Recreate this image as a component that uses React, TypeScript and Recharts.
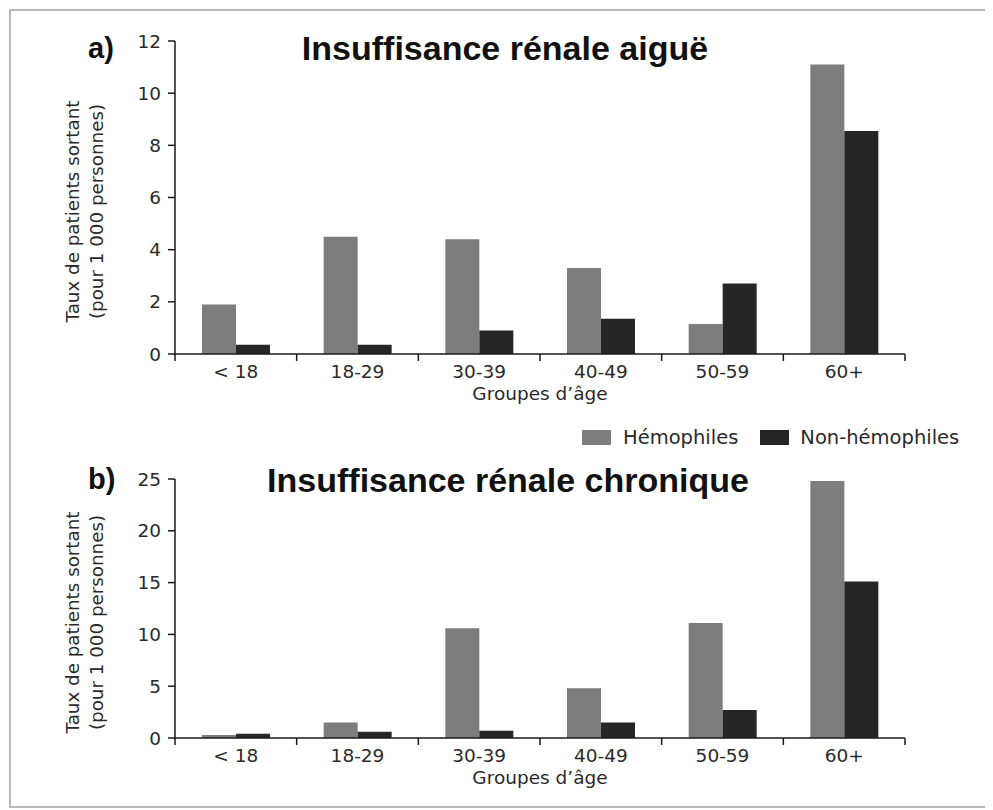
import React from 'react';
import { BarChart, Bar, XAxis, YAxis, Label } from 'recharts';

const categories = ['< 18', '18-29', '30-39', '40-49', '50-59', '60+'];

// a) Insuffisance rénale aiguë
const aiguHemo = [1.9, 4.5, 4.4, 3.3, 1.15, 11.1];
const aiguNon = [0.35, 0.35, 0.9, 1.35, 2.7, 8.55];
const aiguTicks = [0, 2, 4, 6, 8, 10, 12];

// b) Insuffisance rénale chronique
const chronHemo = [0.3, 1.5, 10.6, 4.8, 11.1, 24.8];
const chronNon = [0.4, 0.6, 0.7, 1.5, 2.7, 15.1];
const chronTicks = [0, 5, 10, 15, 20, 25];

const seriesNames = ['Hémophiles', 'Non-hémophiles'];

const GRAY = '#7d7d7d';
const DARK = '#262626';
const INK = '#1a1a1a';
const TEXT = '#2a2a2a';
// the scan's sans is wider than Arial, DejaVu Sans fits its widths better
const FONT = '"DejaVu Sans", "Liberation Sans", Arial, sans-serif';
const BOLD = '"Liberation Sans", Arial, Helvetica, sans-serif';

const dataAigu = categories.map((age, i) => ({ age, hemo: aiguHemo[i], non: aiguNon[i] }));
const dataChron = categories.map((age, i) => ({ age, hemo: chronHemo[i], non: chronNon[i] }));

const CHART_W = 985;
const Y_W = 60;
const PLOT_LEFT = 167; // container coords
const PLOT_RIGHT = 897;
const BAND = (PLOT_RIGHT - PLOT_LEFT) / categories.length;

const AgeTick = (props: any) => {
  const { x, y, payload, index } = props;
  const left = x - BAND / 2;
  const right = x + BAND / 2;
  return (
    <g>
      <line x1={left} x2={left} y1={y} y2={y + 7} stroke={INK} strokeWidth={1.5} />
      {index === categories.length - 1 && (
        <line x1={right} x2={right} y1={y} y2={y + 7} stroke={INK} strokeWidth={1.5} />
      )}
      <text x={x} y={y + 24} textAnchor="middle" fontSize={18.5} fill={TEXT} fontFamily={FONT}>
        {payload.value}
      </text>
    </g>
  );
};

const YTitle = (props: any) => {
  const vb = props.viewBox || {};
  const cy = vb.y + vb.height / 2 + 14;
  const x1 = vb.x - 43;
  const x2 = vb.x - 19;
  return (
    <g fontFamily={FONT} fontSize={18.3} fill={TEXT}>
      <text x={x1} y={cy} textAnchor="middle" dominantBaseline="central" transform={`rotate(-90, ${x1}, ${cy})`}>
        Taux de patients sortant
      </text>
      <text x={x2} y={cy} textAnchor="middle" dominantBaseline="central" transform={`rotate(-90, ${x2}, ${cy})`}>
        (pour 1 000 personnes)
      </text>
    </g>
  );
};

function Panel({ data, ticks, max, top, plotTop, plotBottom }: any) {
  const height = plotBottom - top + 54;
  return (
    <div style={{ position: 'absolute', left: 0, top }}>
      <BarChart
        width={CHART_W}
        height={height}
        data={data}
        margin={{ top: plotTop - top, right: CHART_W - PLOT_RIGHT, left: PLOT_LEFT - Y_W, bottom: 0 }}
        barGap={0}
        barSize={34}
      >
        <XAxis
          dataKey="age"
          height={54}
          tickSize={0}
          tickMargin={0}
          tickLine={false}
          axisLine={{ stroke: INK, strokeWidth: 1.5 }}
          tick={<AgeTick />}
          interval={0}
        >
          <Label
            value="Groupes d’âge"
            position="insideBottom"
            offset={8}
            style={{ fontSize: 18.5, fill: TEXT, fontFamily: FONT }}
          />
        </XAxis>
        <YAxis
          width={Y_W}
          domain={[0, max]}
          ticks={ticks}
          interval={0}
          tickSize={7}
          tickMargin={7}
          axisLine={{ stroke: INK, strokeWidth: 1.5 }}
          tickLine={{ stroke: INK, strokeWidth: 1.5 }}
          tick={{ fontSize: 18.5, fill: TEXT, fontFamily: FONT }}
        >
          <Label content={<YTitle />} />
        </YAxis>
        <Bar dataKey="hemo" name={seriesNames[0]} fill={GRAY} isAnimationActive={false} />
        <Bar dataKey="non" name={seriesNames[1]} fill={DARK} isAnimationActive={false} />
      </BarChart>
    </div>
  );
}

const titleStyle: React.CSSProperties = {
  position: 'absolute',
  fontFamily: BOLD,
  fontWeight: 700,
  fontSize: 34,
  lineHeight: '34px',
  color: '#111',
  whiteSpace: 'nowrap',
};

export default function App() {
  return (
    <div style={{ position: 'relative', width: 985, height: 802, background: '#fff', fontFamily: FONT }}>
      <div
        style={{
          position: 'absolute',
          left: 1,
          top: 1,
          width: 981,
          height: 799,
          border: '2px solid #b8b8b8',
          boxSizing: 'border-box',
        }}
      />
      <Panel data={dataAigu} ticks={aiguTicks} max={12} top={0} plotTop={33} plotBottom={346} />
      <Panel data={dataChron} ticks={chronTicks} max={25} top={420} plotTop={471} plotBottom={730} />

      <div style={{ ...titleStyle, left: 80, top: 26, fontSize: 29, lineHeight: '29px' }}>a)</div>
      <div style={{ ...titleStyle, left: 497, top: 23, transform: 'translateX(-50%)' }}>
        Insuffisance rénale aiguë
      </div>
      <div style={{ ...titleStyle, left: 80, top: 457, fontSize: 29, lineHeight: '29px' }}>b)</div>
      <div style={{ ...titleStyle, left: 500, top: 455, transform: 'translateX(-50%)' }}>
        Insuffisance rénale chronique
      </div>

      <div
        style={{
          position: 'absolute',
          left: 574,
          top: 418,
          display: 'flex',
          alignItems: 'center',
          fontSize: 19.5,
          color: TEXT,
          whiteSpace: 'nowrap',
        }}
      >
        <span style={{ display: 'inline-block', width: 29, height: 15, background: GRAY, marginRight: 12 }} />
        <span style={{ marginRight: 22 }}>{seriesNames[0]}</span>
        <span style={{ display: 'inline-block', width: 29, height: 15, background: DARK, marginRight: 11 }} />
        <span>{seriesNames[1]}</span>
      </div>
    </div>
  );
}
